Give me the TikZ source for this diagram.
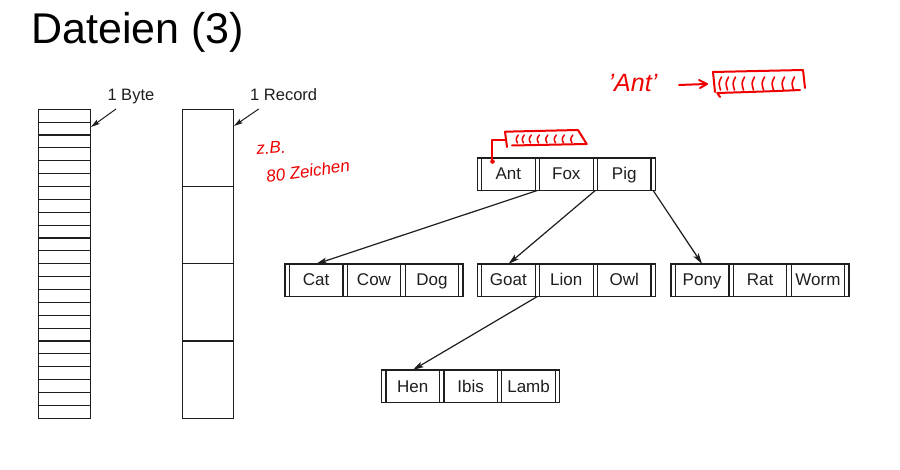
\documentclass[tikz,border=0pt]{standalone}
\usepackage{fontspec}
\setmainfont{Liberation Sans}
\usetikzlibrary{arrows.meta}
\definecolor{ink}{HTML}{1E1E1E}
\definecolor{hand}{HTML}{EE0000}
\tikzset{
  slot/.style={draw=ink, line width=1.2pt, inner sep=0pt, outer sep=0pt, minimum width=4.3pt, minimum height=32.5pt},
  key/.style={draw=ink, line width=1.2pt, inner sep=0pt, outer sep=0pt, minimum width=53.6pt, minimum height=32.5pt,
              text height=12.3pt, text depth=0.8pt,
              font=\fontsize{17}{20}\selectfont, text=ink},
  arr/.style={draw=ink, line width=1.2pt, -{Stealth[length=11pt,width=6pt,inset=2.5pt]}},
  sarr/.style={draw=ink, line width=1pt, -{Stealth[length=9pt,width=5pt,inset=2pt]}},
  colbox/.style={draw=ink, line width=1.4pt},
  colline/.style={draw=ink, line width=1.1pt},
  lab/.style={font=\fontsize{16.5}{19}\selectfont, text=ink, inner sep=0pt},
  handline/.style={draw=hand, line width=2pt, line cap=round, line join=round},
  handtext/.style={text=hand, inner sep=0pt, font=\itshape\fontsize{17}{19}\selectfont}
}
\newcommand{\bnode}[6]{%
 \node[slot,anchor=north west] (#1s1) at (#2,#3) {};
 \node[key,anchor=north west] (#1k1) at (#1s1.north east) {#4};
 \node[slot,anchor=north west] (#1s2) at (#1k1.north east) {};
 \node[key,anchor=north west] (#1k2) at (#1s2.north east) {#5};
 \node[slot,anchor=north west] (#1s3) at (#1k2.north east) {};
 \node[key,anchor=north west] (#1k3) at (#1s3.north east) {#6};
 \node[slot,anchor=north west] (#1s4) at (#1k3.north east) {};
}
\begin{document}
\begin{tikzpicture}[x=1pt,y=-1pt]
\useasboundingbox (0,0) rectangle (900,470);
\fill[white] (0,0) rectangle (900,470);

% title
\node[anchor=base west, inner sep=0pt, font=\fontsize{43}{50}\selectfont] (title) at (31,44) {Dateien (3)};

% byte column
\draw[colbox] (38.3,109.3) rectangle (90.3,418.3);
\foreach \i in {1,...,23} \draw[colline] (38.3,{109.3+\i*12.875}) -- (90.3,{109.3+\i*12.875});
% record column
\draw[colbox] (182.3,109.3) rectangle (233.3,418.3);
\foreach \i in {1,2,3} \draw[colline] (182.3,{109.3+\i*77.25}) -- (233.3,{109.3+\i*77.25});

% labels
\node[lab, anchor=base west] (lbyte) at (107.3,100.7) {1 Byte};
\node[lab, anchor=base west] (lrec) at (250,100.7) {1 Record};
\coordinate (byteA) at (116,109);
\coordinate (byteB) at (91,127);
\coordinate (recA) at (258.7,109);
\coordinate (recB) at (234,126);
\draw[sarr] (byteA) -- (byteB);
\draw[sarr] (recA) -- (recB);

% B-tree
\bnode{r}{477.3}{158}{Ant}{Fox}{Pig}
\bnode{c}{285}{264}{Cat}{Cow}{Dog}
\bnode{g}{477.3}{264}{Goat}{Lion}{Owl}
\bnode{p}{671}{264}{Pony}{Rat}{Worm}
\bnode{h}{381.7}{370}{Hen}{Ibis}{Lamb}

\draw[arr] (rs2.south) -- (ck1.north);
\draw[arr] (rs3.south) -- (gk1.north);
\draw[arr] (rs4.south) -- (pk1.north);
\draw[arr] (gs2.south) -- (hk1.north);

% handwriting: z.B. 80 Zeichen
\node[handtext, anchor=center, rotate=4] (zb) at (271,148) {z.B.};
\node[handtext, anchor=center, rotate=8] (zeichen) at (308,171) {80 Zeichen};

% handwriting: 'Ant' -> box
\node[handtext, anchor=center, font=\itshape\fontsize{25}{28}\selectfont] (antq) at (633,83) {'Ant'};
\draw[handline] (679,85) -- (706,84);
\draw[handline] (699,80) -- (707,84) -- (700,88);
\draw[handline] (715,92) -- (713,72) -- (803,70) -- (805,88);
\draw[handline] (717,93) .. controls (750,92) and (780,91) .. (800,90);
\draw[handline] (718,94) -- (720,97);
\foreach \x in {720,727,734,743,753,763,773,783,793}
  \draw[handline, line width=1.6pt] (\x+1.5,77) .. controls (\x-1.5,83) .. (\x+0.5,90);

% handwriting: small box above Ant
\draw[handline] (507,147) -- (505,131.7) -- (578,130) -- (586.7,144) -- (512,145.5);
\foreach \x in {517,523,530,538,546.5,555,563,571.5}
  \draw[handline, line width=1.5pt] (\x+1.3,135) .. controls (\x-1.3,139) .. (\x+0.5,143);
\draw[handline] (505,140) -- (491.7,140) -- (491.7,160);
\fill[hand] (492.5,161.5) circle (2.3pt);
\end{tikzpicture}
\end{document}
